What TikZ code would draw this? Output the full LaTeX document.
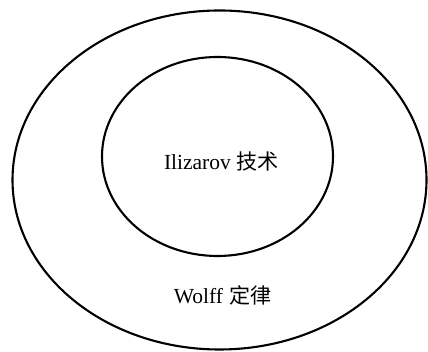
\documentclass[tikz,border=0pt]{standalone}
\usepackage{fontspec}
\setmainfont{Liberation Serif}
\newfontfamily\cjk{Noto Sans CJK SC}[Scale=0.98]
\usetikzlibrary{shapes.geometric}
\begin{document}
\begin{tikzpicture}[x=1pt,y=1pt,
  ring/.style={draw=black, line width=2.1pt, ellipse, inner sep=0pt},
  lbl/.style={font=\fontsize{21.5}{24}\selectfont, inner sep=0pt}]
\useasboundingbox (0,0) rectangle (428,352);
\node[ring, minimum width=414pt, minimum height=339pt] (outer) at (219.5,172) {};
\node[ring, minimum width=231pt, minimum height=199pt] (inner) at (217.5,195.5) {};
\node[lbl] (t1) at (221.5,190) {Ilizarov\hspace{6pt}{\cjk 技术}};
\node[lbl] (t2) at (222.5,57) {Wolff\hspace{6pt}{\cjk 定律}};
\end{tikzpicture}
\end{document}
